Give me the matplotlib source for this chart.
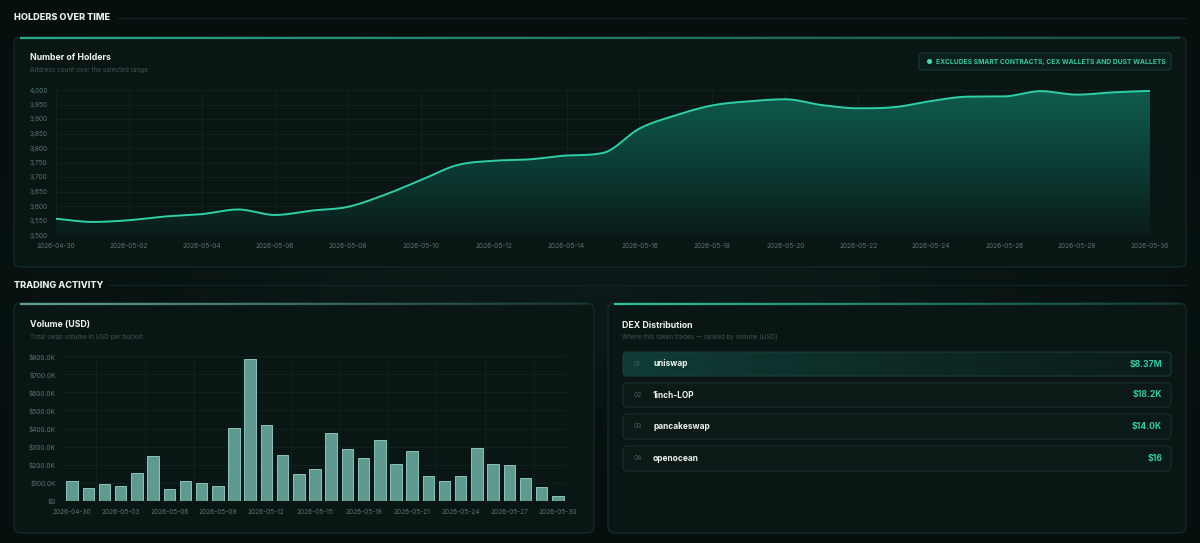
import numpy as np
import pandas as pd
import matplotlib
matplotlib.use("Agg")
import matplotlib.pyplot as plt
from matplotlib.patches import FancyBboxPatch, Polygon, Circle
from matplotlib.collections import LineCollection
from matplotlib.colors import LinearSegmentedColormap, to_rgba

plt.rcParams['font.family'] = ['Inter', 'DejaVu Sans']

# ---------------- data ----------------
dates = [d.strftime('%Y-%m-%d') for d in pd.date_range('2026-04-30', '2026-05-30', freq='D')]
holders = [3556, 3545, 3551, 3564, 3572, 3588, 3569, 3584, 3597, 3638,
           3689, 3741, 3756, 3761, 3774, 3783, 3867, 3913, 3947, 3961,
           3968, 3948, 3937, 3941, 3962, 3977, 3978, 3996, 3984, 3992, 3997]
volume = [107e3, 72e3, 92e3, 79e3, 153e3, 246e3, 65e3, 111e3, 100e3, 81e3,
          405e3, 785e3, 418e3, 251e3, 146e3, 176e3, 377e3, 285e3, 236e3, 338e3,
          203e3, 273e3, 139e3, 109e3, 139e3, 292e3, 201e3, 196e3, 124e3, 76e3, 24e3]
holder_ticks = [3500, 3550, 3600, 3650, 3700, 3750, 3800, 3850, 3900, 3950, 4000]
volume_ticks = [0, 100e3, 200e3, 300e3, 400e3, 500e3, 600e3, 700e3, 800e3]
dex_names = ['uniswap', '1inch-LOP', 'pancakeswap', 'openocean']
dex_values = ['$8.37M', '$18.2K', '$14.0K', '$16']
dex_ranks = ['01', '02', '03', '04']

# ---------------- styling ----------------
W, H = 1200, 543
BG = '#070f0e'
CARD = '#0a1614'
BORDER = '#14302b'
TEAL = '#2fd0a6'
GRID = '#11221f'
TICK = '#5a7671'
SUB = '#3c5752'

fig = plt.figure(figsize=(W / 100, H / 100), dpi=100, facecolor=BG)


def rect(x0, y0, x1, y1):
    return [x0 / W, 1 - y1 / H, (x1 - x0) / W, (y1 - y0) / H]


bg = fig.add_axes([0, 0, 1, 1], zorder=0)
bg.set_xlim(0, W)
bg.set_ylim(H, 0)
bg.axis('off')

# subtle background glow
gy, gx = np.mgrid[0:H:4, 0:W:4]
glow = np.exp(-(((gx - 600) / 500) ** 2 + ((gy - 290) / 120) ** 2))
glow_cmap = LinearSegmentedColormap.from_list('g', [BG, '#0b1a18'])
bg.imshow(glow, extent=(0, W, H, 0), cmap=glow_cmap, aspect='auto', zorder=0)


def card(x0, y0, x1, y1, hl_color, hl_end_alpha=0.25):
    p = FancyBboxPatch((x0, y0), x1 - x0, y1 - y0,
                       boxstyle='round,pad=0,rounding_size=7',
                       facecolor=CARD, edgecolor=BORDER, linewidth=0.8, zorder=1)
    bg.add_patch(p)
    xs = np.linspace(x0 + 6, x1 - 6, 200)
    segs = [[(xs[i], y0 + 0.6), (xs[i + 1], y0 + 0.6)] for i in range(len(xs) - 1)]
    base = np.array(to_rgba(hl_color))
    cols = []
    for i in range(len(xs) - 1):
        c = base.copy()
        c[3] = 1.0 - (1.0 - hl_end_alpha) * i / (len(xs) - 2)
        cols.append(c)
    bg.add_collection(LineCollection(segs, colors=cols, linewidths=1.6, zorder=2))


def section(y, label, x_line):
    bg.text(14, y, label, color='#e8eeec', fontsize=6.6, fontweight='heavy',
            va='center', ha='left', zorder=3)
    bg.plot([x_line, 1186], [y, y], color='#112723', lw=0.8, zorder=1)


section(18, 'HOLDERS OVER TIME', 118)
section(285, 'TRADING ACTIVITY', 109)

card(14, 37, 1186, 267, '#2aa88b', 0.35)
card(14, 303, 594, 533, '#5fa297', 0.15)
card(608, 303, 1186, 533, '#2ec4a0', 0.15)

# titles
TS, SS = 6.3, 4.6
bg.text(30, 58, 'Number of Holders', color='#eef3f1', fontsize=TS, fontweight='bold', va='center', zorder=3)
bg.text(30, 70, 'Address count over the selected range', color=SUB, fontsize=SS, va='center', zorder=3)
bg.text(30, 325, 'Volume (USD)', color='#eef3f1', fontsize=TS, fontweight='bold', va='center', zorder=3)
bg.text(30, 337, 'Total swap volume in USD per bucket', color=SUB, fontsize=SS, va='center', zorder=3)
bg.text(622, 325, 'DEX Distribution', color='#eef3f1', fontsize=TS, fontweight='bold', va='center', zorder=3)
bg.text(622, 337, 'Where this token trades \u2014 ranked by volume (USD)', color=SUB, fontsize=SS, va='center', zorder=3)

# badge
bg.add_patch(FancyBboxPatch((919, 53), 252, 17, boxstyle='round,pad=0,rounding_size=3',
                            facecolor='#0c1f1c', edgecolor='#1a3a34', linewidth=0.8, zorder=2))
bg.add_patch(Circle((929.5, 61.5), 1.8, color='#3fe0b5', zorder=3))
bg.text(936, 61.7, 'EXCLUDES SMART CONTRACTS, CEX WALLETS AND DUST WALLETS', color='#38c4a0',
        fontsize=4.8, fontweight='bold', va='center', ha='left', zorder=3)

# DEX rows
row_y = [(352, 376), (383, 407), (414, 439), (446, 471)]
for i, (name, val, rk) in enumerate(zip(dex_names, dex_values, dex_ranks)):
    y0, y1 = row_y[i]
    if i == 0:
        grad = np.linspace(0, 1, 256).reshape(1, -1)
        cm = LinearSegmentedColormap.from_list('r', ['#0f3d36', '#0d2a26', '#0b1c1a'])
        p = FancyBboxPatch((623, y0), 548, y1 - y0, boxstyle='round,pad=0,rounding_size=4',
                           facecolor='none', edgecolor='#1a3d36', linewidth=0.8, zorder=3)
        bg.add_patch(p)
        im = bg.imshow(grad, extent=(623, 1171, y1, y0), cmap=cm, aspect='auto', zorder=2)
        im.set_clip_path(p)
    else:
        bg.add_patch(FancyBboxPatch((623, y0), 548, y1 - y0, boxstyle='round,pad=0,rounding_size=4',
                                    facecolor='#0b1917', edgecolor='#17322d', linewidth=0.8, zorder=2))
    yc = (y0 + y1) / 2
    bg.text(634, yc, rk, color='#48645f', fontsize=4.8, va='center', zorder=4)
    bg.text(653, yc, name, color='#eef3f1', fontsize=6.0, fontweight='bold', va='center', zorder=4)
    bg.text(1162, yc, val, color='#32c9a2', fontsize=6.2, fontweight='bold', va='center', ha='right', zorder=4)


# ---------------- holders chart ----------------
def monotone(x, y, n=24):
    x = np.asarray(x, float)
    y = np.asarray(y, float)
    h = np.diff(x)
    d = np.diff(y) / h
    m = np.zeros_like(y)
    m[0], m[-1] = d[0], d[-1]
    for k in range(1, len(y) - 1):
        m[k] = (d[k - 1] + d[k]) / 2 if d[k - 1] * d[k] > 0 else 0.0
    for k in range(len(d)):
        if d[k] == 0:
            m[k] = m[k + 1] = 0
        else:
            a, b = m[k] / d[k], m[k + 1] / d[k]
            s = a * a + b * b
            if s > 9:
                t = 3 / np.sqrt(s)
                m[k], m[k + 1] = t * a * d[k], t * b * d[k]
    xs, ys = [], []
    for k in range(len(d)):
        t = np.linspace(0, 1, n, endpoint=False)
        h00 = 2 * t ** 3 - 3 * t ** 2 + 1
        h10 = t ** 3 - 2 * t ** 2 + t
        h01 = -2 * t ** 3 + 3 * t ** 2
        h11 = t ** 3 - t ** 2
        xs.append(x[k] + t * h[k])
        ys.append(h00 * y[k] + h10 * h[k] * m[k] + h01 * y[k + 1] + h11 * h[k] * m[k + 1])
    xs.append([x[-1]])
    ys.append([y[-1]])
    return np.concatenate(xs), np.concatenate(ys)


TL = 4.7
axh = fig.add_axes(rect(56, 90, 1150, 235), zorder=5)
axh.set_facecolor('none')
xi = np.arange(len(dates))
axh.set_xlim(0, len(dates) - 1)
axh.set_ylim(3500, 4000)
sx, sy = monotone(xi, holders)
verts = [(sx[0], 3500)] + list(zip(sx, sy)) + [(sx[-1], 3500)]
poly = Polygon(verts, closed=True, facecolor='none', edgecolor='none')
axh.add_patch(poly)
fill_cmap = LinearSegmentedColormap.from_list('f', ['#0a1d1a', '#0c3d35', '#0f5c4d'])
gimg = np.linspace(0, 1, 256).reshape(-1, 1)
im = axh.imshow(gimg, extent=(0, len(dates) - 1, 3500, 4000), origin='lower',
                cmap=fill_cmap, aspect='auto', zorder=1)
im.set_clip_path(poly)
axh.plot(sx, sy, color=TEAL, lw=1.4, zorder=3, solid_capstyle='round')
axh.set_yticks(holder_ticks)
axh.set_yticklabels([f'{v:,}' for v in holder_ticks])
axh.set_xticks(xi[::2])
axh.set_xticklabels(dates[::2])
axh.grid(True, color=GRID, lw=0.7, zorder=0)
axh.set_axisbelow(True)
for s in axh.spines.values():
    s.set_visible(False)
axh.tick_params(length=0, colors=TICK, labelsize=TL, pad=6)
axh.tick_params(axis='y', pad=6)

# ---------------- volume chart ----------------
axv = fig.add_axes(rect(64, 356.3, 566, 500.7), zorder=5)
axv.set_facecolor('none')
vi = np.arange(len(volume))
axv.set_xlim(-0.5, len(volume) - 0.5)
axv.set_ylim(0, 800e3)
axv.bar(vi, volume, width=0.71, color='#5f9a90', edgecolor='#8cc3b8', linewidth=0.7, zorder=3)
axv.set_yticks(volume_ticks)
axv.set_yticklabels(['$0' if v == 0 else f'${v / 1000:.1f}K' for v in volume_ticks])
axv.set_xticks(vi[::3])
axv.set_xticklabels([dates[i] for i in vi[::3]])
axv.yaxis.grid(True, color=GRID, lw=0.7, zorder=0)
for gxv in np.arange(1.5, len(volume), 3):
    axv.axvline(gxv, color=GRID, lw=0.7, zorder=0)
for s in axv.spines.values():
    s.set_visible(False)
axv.tick_params(length=0, colors=TICK, labelsize=TL, pad=6)
axv.tick_params(axis='y', pad=6)

fig.savefig('out.png', dpi=100, facecolor=BG)
